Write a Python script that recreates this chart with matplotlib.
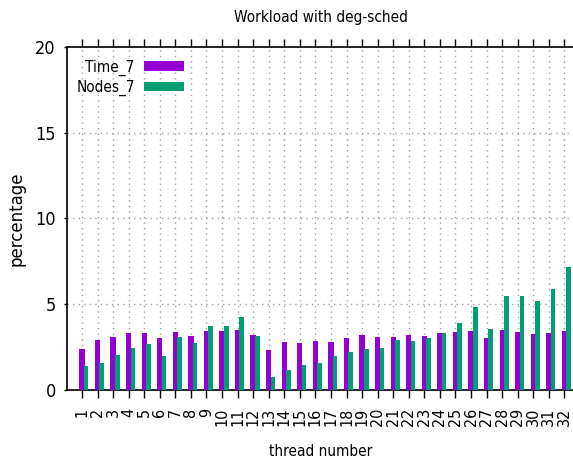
import matplotlib
matplotlib.use("Agg")
import matplotlib.pyplot as plt
import numpy as np

threads = list(range(1, 33))
time_7 = [2.39, 2.92, 3.09, 3.32, 3.32, 3.01, 3.38, 3.15, 3.46, 3.44,
          3.50, 3.21, 2.35, 2.80, 2.74, 2.86, 2.80, 3.05, 3.21, 3.11,
          3.11, 3.21, 3.17, 3.32, 3.38, 3.44, 3.03, 3.50, 3.38, 3.27,
          3.32, 3.44]
nodes_7 = [1.42, 1.56, 2.02, 2.45, 2.68, 2.00, 3.07, 2.74, 3.73, 3.75,
           4.26, 3.15, 0.76, 1.17, 1.46, 1.57, 1.98, 2.24, 2.39, 2.47,
           2.94, 2.86, 3.01, 3.32, 3.93, 4.84, 3.56, 5.48, 5.50, 5.19,
           5.91, 7.17]
yticks = [0, 5, 10, 15, 20]

plt.rcParams['font.family'] = ['DejaVu Sans']
plt.rcParams['font.stretch'] = 'condensed'
W, H = 573, 459
fig = plt.figure(figsize=(W / 100, H / 100), dpi=100)
ax = fig.add_axes([67 / W, (H - 390) / H, (575 - 67) / W, (390 - 47) / H])

x = np.array(threads, dtype=float)
purple = '#9400D3'
green = '#009E73'
ax.bar(x, time_7, width=0.34, color=purple, label='Time_7', zorder=3)
ax.bar(x + 0.27, nodes_7, width=0.30, color=green, label='Nodes_7', zorder=3)

ax.set_xlim(0.04, 32.68)
ax.set_ylim(0, 20)
ax.set_xticks(threads)
ax.set_xticklabels([str(t) for t in threads], rotation=90, fontsize=11.5,
                   fontstretch='condensed')
ax.set_yticks(yticks)
ax.set_yticklabels([str(v) for v in yticks], fontsize=13, fontstretch='condensed')
ax.tick_params(axis='x', direction='out', length=6, top=True, width=1, pad=7)
ax.tick_params(axis='y', direction='out', length=2, width=1, pad=6)

for v in [5, 10, 15]:
    ax.axhline(v, color='#a0a0a0', linestyle=(0, (1, 3)), linewidth=1.0, zorder=1)
for t in threads:
    ax.axvline(t, color='#a0a0a0', linestyle=(0, (1, 3)), linewidth=1.0, zorder=1)

for s in ['left', 'bottom', 'top']:
    ax.spines[s].set_linewidth(1.2)
ax.spines['right'].set_visible(False)

ax.set_title('Workload with deg-sched', fontsize=11, pad=18, fontstretch='condensed')
ax.set_xlabel('thread number', fontsize=11, labelpad=13, fontstretch='condensed')
ax.set_ylabel('percentage', fontsize=12, labelpad=7, fontstretch='normal')

leg = ax.legend(loc='upper left', bbox_to_anchor=(-0.012, 1.008), markerfirst=False,
                frameon=False, prop={'size': 11, 'stretch': 'condensed'},
                handlelength=2.6, handleheight=0.6,
                handletextpad=0.6, labelspacing=0.28, borderaxespad=0.6)
for t in leg.get_texts():
    t.set_ha('right')

fig.savefig('out.png', dpi=100)
